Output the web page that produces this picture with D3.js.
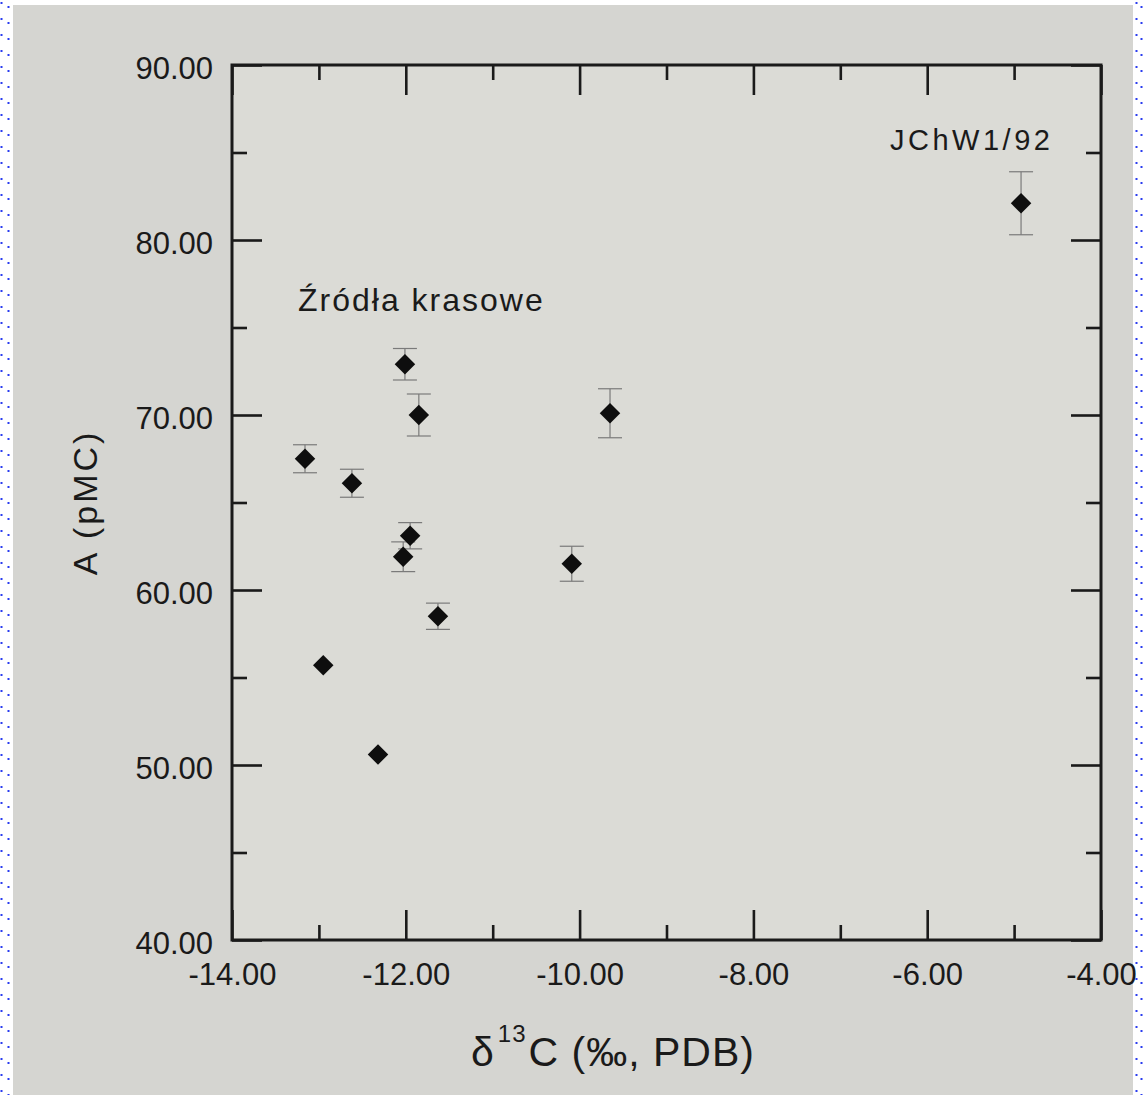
<!DOCTYPE html>
<html>
<head>
<meta charset="utf-8">
<script src="https://cdn.jsdelivr.net/npm/d3@7"></script>
<style>
  html, body { margin: 0; padding: 0; background: #fff; }
  svg { display: block; }
</style>
</head>
<body>
<svg id="chart" width="1144" height="1095"></svg>
<script>
// delta 13C (per mille PDB) vs 14C activity (pMC), karst springs
// error 0 = bar not visible in the source (hidden behind the marker)
var d13C   = [-13.16, -12.62, -12.95, -12.32, -12.01, -11.85, -11.95, -12.03, -11.63, -9.65, -10.09, -4.92];
var pMC    = [ 67.5,   66.1,   55.7,   50.6,   72.9,   70.0,   63.1,   61.9,   58.5,  70.1,   61.5,  82.1];
var pMCerr = [  0.8,    0.8,    0,      0,      0.9,    1.2,    0.75,   0.85,   0.75,  1.4,    1.0,   1.8];

var xMajor = [-14, -12, -10, -8, -6, -4];
var xMinor = [-13, -11, -9, -7, -5];
var yMajor = [40, 50, 60, 70, 80, 90];
var yMinor = [45, 55, 65, 75, 85];

var svg = d3.select("#chart");
var font = "'Liberation Sans', Arial, Helvetica, sans-serif";
var ink = "#1a1a1a";

// photographed page
svg.append("rect")
    .attr("x", 13).attr("y", 5)
    .attr("width", 1120).attr("height", 1090)
    .attr("fill", "#d5d5d1");

// dotted frame left by the screenshot
[1.5, 8.5, 1136.5, 1141.5].forEach(function (xx, i) {
    svg.append("line")
        .attr("x1", xx).attr("x2", xx)
        .attr("y1", i % 2 ? 6 : 2).attr("y2", 1095)
        .attr("stroke", "#2a3cf0")
        .attr("stroke-width", 2)
        .attr("stroke-dasharray", "2,14");
});

var pLeft = 232, pRight = 1101, pTop = 65, pBottom = 940;

var x = d3.scaleLinear().domain([-14, -4]).range([pLeft, pRight]);
var y = d3.scaleLinear().domain([40, 90]).range([pBottom, pTop]);

var g = svg.append("g");

g.append("rect")
    .attr("x", pLeft).attr("y", pTop)
    .attr("width", pRight - pLeft).attr("height", pBottom - pTop)
    .attr("fill", "#dbdbd6");

function fmt(d) { return d.toFixed(2); }

function addAxis(axis, tx, ty) {
    var a = g.append("g")
        .attr("transform", "translate(" + tx + "," + ty + ")")
        .call(axis);
    a.select(".domain").remove();
    a.selectAll(".tick line").attr("stroke", ink).attr("stroke-width", 2.6);
    a.selectAll(".tick text")
        .attr("fill", ink)
        .style("font-family", font)
        .style("font-size", "31px");
    return a;
}

// left
addAxis(d3.axisLeft(y).tickValues(yMajor).tickFormat(fmt).tickSizeInner(-30).tickSizeOuter(0).tickPadding(19), pLeft, 0)
    .selectAll(".tick text").attr("dy", "0.42em");
addAxis(d3.axisLeft(y).tickValues(yMinor).tickFormat("").tickSizeInner(-15).tickSizeOuter(0), pLeft, 0);
// right
addAxis(d3.axisRight(y).tickValues(yMajor).tickFormat("").tickSizeInner(-30).tickSizeOuter(0), pRight, 0);
addAxis(d3.axisRight(y).tickValues(yMinor).tickFormat("").tickSizeInner(-15).tickSizeOuter(0), pRight, 0);
// bottom
addAxis(d3.axisBottom(x).tickValues(xMajor).tickFormat(fmt).tickSizeInner(-30).tickSizeOuter(0).tickPadding(23), 0, pBottom);
addAxis(d3.axisBottom(x).tickValues(xMinor).tickFormat("").tickSizeInner(-15).tickSizeOuter(0), 0, pBottom);
// top
addAxis(d3.axisTop(x).tickValues(xMajor).tickFormat("").tickSizeInner(-30).tickSizeOuter(0), 0, pTop);
addAxis(d3.axisTop(x).tickValues(xMinor).tickFormat("").tickSizeInner(-15).tickSizeOuter(0), 0, pTop);

// frame
g.append("rect")
    .attr("x", pLeft).attr("y", pTop)
    .attr("width", pRight - pLeft).attr("height", pBottom - pTop)
    .attr("fill", "none")
    .attr("stroke", ink)
    .attr("stroke-width", 3);

// error bars
var pts = d13C.map(function (v, i) { return { x: v, y: pMC[i], e: pMCerr[i] }; });

var eb = g.append("g").attr("stroke", "#7a7a7a").attr("stroke-width", 1.2);
pts.forEach(function (p) {
    if (!p.e) return;
    var cx = x(p.x), y1 = y(p.y + p.e), y2 = y(p.y - p.e);
    eb.append("line").attr("x1", cx).attr("x2", cx).attr("y1", y1).attr("y2", y2);
    eb.append("line").attr("x1", cx - 12).attr("x2", cx + 12).attr("y1", y1).attr("y2", y1);
    eb.append("line").attr("x1", cx - 12).attr("x2", cx + 12).attr("y1", y2).attr("y2", y2);
});

// diamonds
var diamond = d3.symbol().type(d3.symbolSquare).size(210);
g.selectAll(".pt")
    .data(pts)
    .enter().append("path")
    .attr("class", "pt")
    .attr("d", diamond)
    .attr("transform", function (d) { return "translate(" + x(d.x) + "," + y(d.y) + ") rotate(45)"; })
    .attr("fill", "#0e0e0e");

// annotations
g.append("text")
    .attr("x", 298).attr("y", 311)
    .attr("fill", ink)
    .style("font-family", font)
    .style("font-size", "32px")
    .style("letter-spacing", "2px")
    .text("Źródła krasowe");

g.append("text")
    .attr("x", 890).attr("y", 150)
    .attr("fill", ink)
    .style("font-family", font)
    .style("font-size", "29px")
    .style("letter-spacing", "3.5px")
    .text("JChW1/92");

// axis titles
g.append("text")
    .attr("transform", "translate(97," + ((pTop + pBottom) / 2) + ") rotate(-90)")
    .attr("text-anchor", "middle")
    .attr("fill", ink)
    .style("font-family", font)
    .style("font-size", "34px")
    .style("letter-spacing", "3px")
    .text("A (pMC)");

var xt = g.append("text")
    .attr("x", 613).attr("y", 1066)
    .attr("text-anchor", "middle")
    .attr("fill", ink)
    .style("font-family", font)
    .style("font-size", "41px")
    .style("letter-spacing", "1px");
xt.append("tspan").text("δ");
xt.append("tspan").attr("dy", -24).attr("dx", 3).style("font-size", "24px").text("13");
xt.append("tspan").attr("dy", 24).attr("dx", 2).text("C (‰, PDB)");
</script>
</body>
</html>
